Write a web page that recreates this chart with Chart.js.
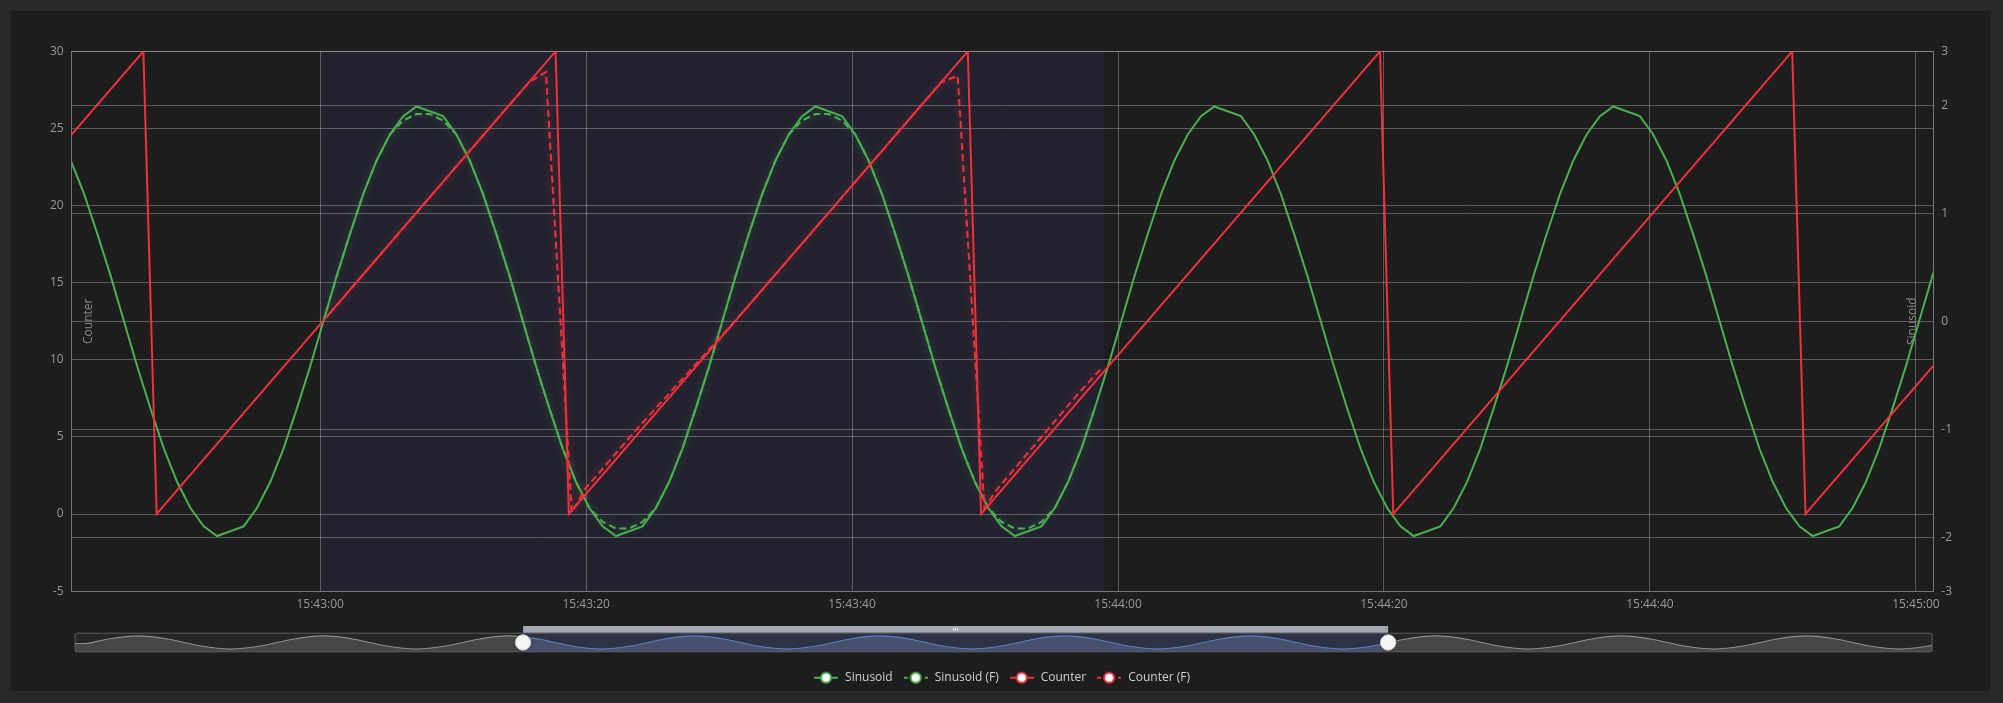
<!DOCTYPE html>
<html>
<head>
<meta charset="utf-8">
<script src="https://cdn.jsdelivr.net/npm/chart.js@4.4.1/dist/chart.umd.min.js"></script>
<style>
    html, body { margin: 0; padding: 0; background: #282828; }
    body { width: 2003px; height: 703px; position: relative; overflow: hidden; }
    .card { position: absolute; left: 11px; top: 11px; width: 1979px; height: 680px; background: #1e1e1e; }
    #main { position: absolute; left: 0; top: 0; }
    #nav { position: absolute; left: 60px; top: 620px; }
</style>
</head>
<body>
<div class="card"></div>
<canvas id="main" width="2003" height="703"></canvas>
<canvas id="nav" width="1890" height="40"></canvas>
<script>
var $ = document.querySelector.bind(document);

// ---------------------------- data ------------------------------

var t0 = '15:43:00';
var viewRange = ['15:42:41.31', '15:45:01.31'];
var filterRange = ['15:43:00', '15:43:59'];
var xTickLabels = ['15:43:00', '15:43:20', '15:43:40', '15:44:00', '15:44:20', '15:44:40', '15:45:00'];
var counterTicks = [-5, 0, 5, 10, 15, 20, 25, 30];
var sinusoidTicks = [-2.5, -2, -1, 0, 1, 2, 2.5];
var sinusoidTickLabels = ['-3', '-2', '-1', '0', '1', '2', '3'];

// one sample per second from sinusoidStart, null = missing sample
var sinusoidStart = '15:42:41.24';
var sinusoid = [
    1.49, 1.18, 0.81, 0.42, 0.00, -0.42, -0.81, -1.18, -1.49, -1.73, -1.90, -1.99, null, -1.90, -1.73,
    -1.49, -1.18, -0.81, -0.42, 0.00, 0.42, 0.81, 1.18, 1.49, 1.73, 1.90, 1.99,
    null, 1.90, 1.73, 1.49, 1.18, 0.81, 0.42, 0.00, -0.42, -0.81, -1.18, -1.49, -1.73, -1.90, -1.99,
    null, -1.90, -1.73, -1.49, -1.18, -0.81, -0.42, 0.00, 0.42, 0.81, 1.18, 1.49, 1.73, 1.90, 1.99,
    null, 1.90, 1.73, 1.49, 1.18, 0.81, 0.42, 0.00, -0.42, -0.81, -1.18, -1.49, -1.73, -1.90, -1.99,
    null, -1.90, -1.73, -1.49, -1.18, -0.81, -0.42, 0.00, 0.42, 0.81, 1.18, 1.49, 1.73, 1.90, 1.99,
    null, 1.90, 1.73, 1.49, 1.18, 0.81, 0.42, 0.00, -0.42, -0.81, -1.18, -1.49, -1.73, -1.90, -1.99,
    null, -1.90, -1.73, -1.49, -1.18, -0.81, -0.42, 0.00, 0.42, 0.81, 1.18, 1.49, 1.73, 1.90, 1.99,
    null, 1.90, 1.73, 1.49, 1.18, 0.81, 0.42, 0.00, -0.42, -0.81, -1.18, -1.49, -1.73, -1.90, -1.99,
    null, -1.90, -1.73, -1.49, -1.18, -0.81, -0.42, 0.00, 0.42, 0.81
];

var sinusoidFStart = '15:43:00.24';
var sinusoidF = [
    0.00, 0.42, 0.81, 1.18, 1.49, 1.73, 1.86, 1.92, 1.92, 1.86, 1.73, 1.49, 1.18, 0.81, 0.42,
    0.00, -0.42, -0.81, -1.18, -1.49, -1.73, -1.86, -1.92, -1.92, -1.86, -1.73, -1.49, -1.18, -0.81, -0.42,
    0.00, 0.42, 0.81, 1.18, 1.49, 1.73, 1.86, 1.92, 1.92, 1.86, 1.73, 1.49, 1.18, 0.81, 0.42,
    0.00, -0.42, -0.81, -1.18, -1.49, -1.73, -1.86, -1.92, -1.92, -1.86, -1.73, -1.49, -1.18, -0.81
];

var counterTimes = ['15:42:40.7', '15:42:46.7', '15:42:47.7', '15:43:17.7', '15:43:18.7', '15:43:48.7',
    '15:43:49.7', '15:44:19.7', '15:44:20.7', '15:44:50.7', '15:44:51.7', '15:45:01.7'];
var counterValues = [24, 30, 0, 30, 0, 30, 0, 30, 0, 30, 0, 10];

var counterFTimes = ['15:43:00.7', '15:43:15.7', '15:43:16.97', '15:43:18.92', '15:43:19.9', '15:43:23.7',
    '15:43:29.7', '15:43:31.7', '15:43:46.7', '15:43:47.94', '15:43:49.95', '15:43:50.9', '15:43:57.1', '15:43:58.7'];
var counterFValues = [13, 28, 28.66, 0.1, 1.6, 5.4, 11.1, 13, 28, 28.42, 0.4, 1.6, 7.9, 9.4];

// navigator (whole history)
var navRange = ['15:41:28.72', '15:46:29.42'];
var navHeadTimes = ['15:41:28.72', '15:41:30.4'];
var navHeadValues = [-0.3, -0.3];
var navStart = '15:41:34';   // then one sample every 5 s
var navValues = [
    1, 2, 1, -1, -2, -1, 1, 2, 1, -1, -2, -1, 1, 2, 1, -1, -2, -1, 1, 2, 1, -1, -2, -1,
    1, 2, 1, -1, -2, -1, 1, 2, 1, -1, -2, -1, 1, 2, 1, -1, -2, -1, 1, 2, 1, -1, -2, -1,
    1, 2, 1, -1, -2, -1, 1, 2, 1, -1, -2, -1, 1
];

// ---------------------------- helpers ------------------------------

var green = '#4caf50';
var red = '#f0323c';
var fontFamily = "'Open Sans', 'Noto Sans', sans-serif";

Chart.defaults.font.family = fontFamily;
Chart.defaults.font.size = 12;

function hms(str) {
    var p = str.split(':');
    return parseInt(p[0]) * 3600 + parseInt(p[1]) * 60 + parseFloat(p[2]);
}

function rel(str) {
    return hms(str) - hms(t0);
}

function series(start, values) {
    var s = rel(start);
    return values.map((v, i) => ({x: s + i, y: v}));
}

function pairs(times, values) {
    return times.map((t, i) => ({x: rel(t), y: values[i]}));
}

function legendIcon(color, dashed) {
    var c = document.createElement('canvas');
    c.width = 24;
    c.height = 14;
    var g = c.getContext('2d');
    g.strokeStyle = color;
    g.lineWidth = 2;
    if (dashed) g.setLineDash([4, 3]);
    g.beginPath();
    g.moveTo(0, 7);
    g.lineTo(24, 7);
    g.stroke();
    g.setLineDash([]);
    g.beginPath();
    g.arc(12, 7, 5, 0, Math.PI * 2);
    g.fillStyle = '#fff';
    g.fill();
    g.stroke();
    return c;
}

// ---------------------------- plugins ------------------------------

var filterShade = {
    id: 'filterShade',
    beforeDraw: function (chart) {
        var a = chart.chartArea, x = chart.scales.x, ctx = chart.ctx;
        var l = x.getPixelForValue(rel(filterRange[0]));
        var r = x.getPixelForValue(rel(filterRange[1]));
        ctx.save();
        ctx.fillStyle = '#232330';
        ctx.fillRect(l, a.top, r - l, a.bottom - a.top);
        ctx.restore();
    }
};

var axisTitles = {
    id: 'axisTitles',
    beforeDatasetsDraw: function (chart) {
        var a = chart.chartArea, ctx = chart.ctx, midY = (a.top + a.bottom) / 2;
        ctx.save();
        ctx.fillStyle = '#8a8a8a';
        ctx.font = '12px ' + fontFamily;
        ctx.textAlign = 'center';
        ctx.textBaseline = 'middle';
        [[a.left + 17, 'Counter'], [a.right - 21, 'Sinusoid']].forEach(t => {
            ctx.save();
            ctx.translate(t[0], midY);
            ctx.rotate(-Math.PI / 2);
            ctx.fillText(t[1], 0, 0);
            ctx.restore();
        });
        ctx.restore();
    }
};

var glow = {
    id: 'glow',
    beforeDatasetDraw: function (chart, args) {
        var ds = chart.data.datasets[args.index];
        chart.ctx.save();
        if (ds.glow) {
            chart.ctx.shadowColor = ds.glow;
            chart.ctx.shadowBlur = 7;
        }
    },
    afterDatasetDraw: function (chart) {
        chart.ctx.restore();
    }
};

// ---------------------------- main chart ------------------------------

var mainChart = new Chart($('#main').getContext('2d'), {
    type: 'line',
    data: {
        datasets: [{
            label: 'Sinusoid',
            data: series(sinusoidStart, sinusoid),
            yAxisID: 'y1',
            borderColor: green,
            borderWidth: 2,
            pointRadius: 0,
            spanGaps: true,
            order: 3
        }, {
            label: 'Sinusoid (F)',
            data: series(sinusoidFStart, sinusoidF),
            yAxisID: 'y1',
            borderColor: green,
            borderWidth: 2,
            borderDash: [7, 4],
            pointRadius: 0,
            glow: 'rgba(76, 175, 80, 0.6)',
            order: 2
        }, {
            label: 'Counter',
            data: pairs(counterTimes, counterValues),
            yAxisID: 'y',
            borderColor: red,
            borderWidth: 2,
            pointRadius: 0,
            order: 1
        }, {
            label: 'Counter (F)',
            data: pairs(counterFTimes, counterFValues),
            yAxisID: 'y',
            borderColor: red,
            borderWidth: 2,
            borderDash: [7, 4],
            pointRadius: 0,
            glow: 'rgba(240, 50, 60, 0.6)',
            order: 0
        }]
    },
    options: {
        responsive: false,
        animation: false,
        events: [],
        layout: {padding: {top: 51.4, left: 0, right: 0, bottom: 9.3}},
        scales: {
            x: {
                type: 'linear',
                min: rel(viewRange[0]),
                max: rel(viewRange[1]),
                afterBuildTicks: s => { s.ticks = xTickLabels.map(l => ({value: rel(l)})); },
                afterFit: s => { s.height = 70.6; },
                ticks: {
                    callback: (v, i) => xTickLabels[i],
                    color: '#9a9a9a',
                    padding: 6,
                    maxRotation: 0,
                    autoSkip: false
                },
                grid: {color: 'rgba(255, 255, 255, 0.28)', drawTicks: false},
                border: {color: '#777'}
            },
            y: {
                position: 'left',
                min: -5,
                max: 30,
                afterBuildTicks: s => { s.ticks = counterTicks.map(v => ({value: v})); },
                afterFit: s => { s.width = 71.7; },
                ticks: {color: '#9a9a9a', padding: 8},
                grid: {color: 'rgba(255, 255, 255, 0.28)', drawTicks: false},
                border: {color: '#777'}
            },
            y1: {
                position: 'right',
                min: -2.5,
                max: 2.5,
                afterBuildTicks: s => { s.ticks = sinusoidTicks.map(v => ({value: v})); },
                afterFit: s => { s.width = 69.7; },
                ticks: {
                    callback: (v, i) => sinusoidTickLabels[i],
                    color: '#9a9a9a',
                    padding: 8
                },
                grid: {color: 'rgba(255, 255, 255, 0.28)', drawTicks: false},
                border: {color: '#777'}
            }
        },
        plugins: {
            tooltip: {enabled: false},
            legend: {
                position: 'bottom',
                labels: {
                    usePointStyle: true,
                    pointStyleWidth: 26,
                    boxHeight: 12,
                    padding: 10,
                    color: '#d0d0d0',
                    font: {size: 12},
                    generateLabels: chart => chart.data.datasets.map((ds, i) => ({
                        text: ds.label,
                        datasetIndex: i,
                        pointStyle: legendIcon(ds.borderColor, !!ds.borderDash),
                        fontColor: '#d0d0d0',
                        fillStyle: 'transparent',
                        strokeStyle: 'transparent',
                        lineWidth: 0,
                        hidden: false
                    }))
                }
            }
        }
    },
    plugins: [filterShade, axisTitles, glow]
});

// ---------------------------- navigator ------------------------------

var navPlugin = {
    id: 'navigator',
    beforeDatasetsDraw: function (chart) {
        var a = chart.chartArea, ctx = chart.ctx, x = chart.scales.x;
        var l = x.getPixelForValue(rel(viewRange[0])), r = x.getPixelForValue(rel(viewRange[1]));
        ctx.save();
        ctx.fillStyle = '#262626';
        ctx.fillRect(a.left, a.top, a.right - a.left, a.bottom - a.top);
        ctx.fillStyle = '#2d3345';
        ctx.fillRect(l, a.top, r - l, a.bottom - a.top);
        ctx.restore();
        // blue dataset (drawn first) only inside the selection
        ctx.save();
        ctx.beginPath();
        ctx.rect(l, a.top, r - l, a.bottom - a.top);
        ctx.clip();
    },
    afterDatasetDraw: function (chart, args) {
        if (args.index !== 1) return;
        var a = chart.chartArea, ctx = chart.ctx, x = chart.scales.x;
        var l = x.getPixelForValue(rel(viewRange[0])), r = x.getPixelForValue(rel(viewRange[1]));
        ctx.restore();
        ctx.save();
        ctx.beginPath();
        ctx.rect(a.left, a.top, l - a.left, a.bottom - a.top);
        ctx.rect(r, a.top, a.right - r, a.bottom - a.top);
        ctx.clip();
    },
    afterDatasetsDraw: function (chart) {
        chart.ctx.restore();
    },
    afterDraw: function (chart) {
        var a = chart.chartArea, ctx = chart.ctx, x = chart.scales.x;
        var l = x.getPixelForValue(rel(viewRange[0])), r = x.getPixelForValue(rel(viewRange[1]));
        var cy = (a.top + a.bottom) / 2;
        ctx.save();
        ctx.strokeStyle = '#5c5c5c';
        ctx.lineWidth = 1;
        ctx.beginPath();
        ctx.roundRect(a.left + 0.5, a.top + 0.5, a.right - a.left - 1, a.bottom - a.top - 1, 2);
        ctx.stroke();
        ctx.fillStyle = '#a2a6b2';
        ctx.fillRect(l, a.top - 6.7, r - l, 6.7);
        ctx.fillStyle = '#f4f4f4';
        var m = (l + r) / 2;
        for (var i = -1; i <= 1; i++) ctx.fillRect(m + i * 2 - 0.5, a.top - 5, 1, 3);
        [l, r].forEach(hx => {
            ctx.save();
            ctx.shadowColor = 'rgba(0, 0, 0, 0.6)';
            ctx.shadowBlur = 3;
            ctx.beginPath();
            ctx.arc(hx, cy, 7.8, 0, Math.PI * 2);
            ctx.fillStyle = '#f4f4f4';
            ctx.fill();
            ctx.restore();
            ctx.strokeStyle = '#bdbdbd';
            ctx.stroke();
        });
        ctx.restore();
    }
};

var navPoints = pairs(navHeadTimes, navHeadValues).concat(
    navValues.map((v, i) => ({x: rel(navStart) + i * 5, y: v})));

var navChart = new Chart($('#nav').getContext('2d'), {
    type: 'line',
    data: {
        datasets: [{
            data: navPoints,
            borderColor: '#8e8e8e',
            borderWidth: 1.2,
            backgroundColor: '#474747',
            fill: 'start',
            cubicInterpolationMode: 'monotone',
            pointRadius: 0
        }, {
            data: navPoints,
            borderColor: '#5f7fc4',
            borderWidth: 1.2,
            backgroundColor: '#45516d',
            fill: 'start',
            cubicInterpolationMode: 'monotone',
            pointRadius: 0
        }]
    },
    options: {
        responsive: false,
        animation: false,
        events: [],
        layout: {padding: {left: 14.5, top: 12.7, right: 17.4, bottom: 7.7}},
        scales: {
            x: {type: 'linear', display: false, min: rel(navRange[0]), max: rel(navRange[1])},
            y: {display: false, min: -3, max: 3}
        },
        plugins: {legend: {display: false}, tooltip: {enabled: false}}
    },
    plugins: [navPlugin]
});
</script>
</body>
</html>
